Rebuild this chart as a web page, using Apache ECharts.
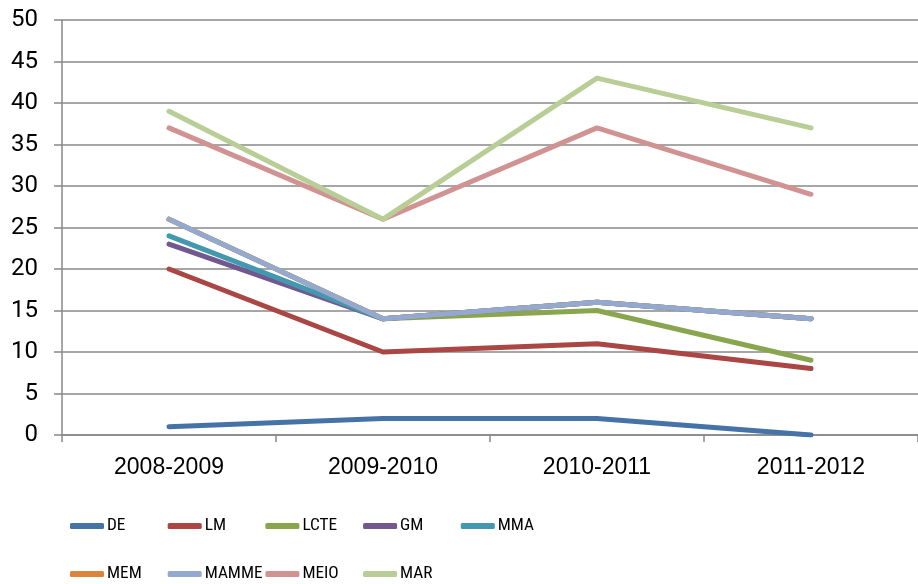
<!DOCTYPE html>
<html>
<head>
<meta charset="utf-8">
<script src="https://cdn.jsdelivr.net/npm/echarts@6/dist/echarts.min.js"></script>
<style>html,body{margin:0;padding:0;background:#fff}#c{width:918px;height:584px}</style>
</head>
<body>
<div id="c"></div>
<script>
var categories = ['2008-2009', '2009-2010', '2010-2011', '2011-2012'];
var seriesNames = ['DE', 'LM', 'LCTE', 'GM', 'MMA', 'MEM', 'MAMME', 'MEIO', 'MAR'];
var DE    = [1, 2, 2, 0];
var LM    = [20, 10, 11, 8];
var LCTE  = [26, 14, 15, 9];
var GM    = [23, 14, 16, 14];
var MMA   = [24, 14, 16, 14];
var MEM   = [26, 14, 16, 14];
var MAMME = [26, 14, 16, 14];
var MEIO  = [37, 26, 37, 29];
var MAR   = [39, 26, 43, 37];
var yTicks = [0, 5, 10, 15, 20, 25, 30, 35, 40, 45, 50];

var values = [DE, LM, LCTE, GM, MMA, MEM, MAMME, MEIO, MAR];
var colors = ['#4572A7', '#AA4643', '#89A54E', '#71588F', '#4198AF', '#DB843D', '#93A9CF', '#D19392', '#B9CD96'];

// pick a condensed font for the legend if one is installed
var cv = document.createElement('canvas').getContext('2d');
function w(font) { cv.font = font; return cv.measureText('MAMME').width; }
var candidates = ['"Liberation Sans Narrow"', '"Roboto Condensed"', '"Open Sans Condensed"', '"Noto Sans Condensed"', '"DejaVu Sans Condensed"'];
var legendFont = '"Liberation Sans"';
for (var k = 0; k < candidates.length; k++) {
  var a = w('40px ' + candidates[k] + ', monospace');
  var b = w('40px monospace');
  var c2 = w('40px ' + candidates[k] + ', serif');
  var d = w('40px serif');
  if (Math.abs(a - b) > 0.5 && Math.abs(c2 - d) > 0.5) { legendFont = candidates[k]; break; }
}
var perPx = w('100px ' + legendFont) / 100;
var legendSize = Math.min(22, Math.floor(58 / perPx * 10) / 10);

var legends = seriesNames.map(function (n, i) {
  var row = i < 5 ? 0 : 1;
  var col = i < 5 ? i : i - 5;
  return {
    data: [n],
    left: 70 + col * 97.7,
    top: row === 0 ? 526 - 11 : 574 - 11,
    padding: 0,
    icon: 'roundRect',
    itemWidth: 34,
    itemHeight: 6,
    selectedMode: false,
    textStyle: {
      fontFamily: legendFont + ', sans-serif',
      fontSize: legendSize,
      lineHeight: 22,
      color: '#000',
      padding: [0, 0, 0, -2]
    }
  };
});

var chart = echarts.init(document.getElementById('c'));
chart.setOption({
  animation: false,
  backgroundColor: '#fff',
  color: colors,
  grid: { left: 62, right: -4, top: 20, bottom: 149, containLabel: false },
  legend: legends,
  xAxis: {
    type: 'category',
    data: categories,
    boundaryGap: true,
    axisLine: { lineStyle: { color: '#888888', width: 1.5 } },
    axisTick: { show: true, length: 7, lineStyle: { color: '#888888', width: 1.5 } },
    axisLabel: {
      margin: 21,
      color: '#000',
      fontSize: 23,
      fontFamily: '"Liberation Sans", Arial, sans-serif'
    },
    splitLine: { show: false }
  },
  yAxis: {
    type: 'value',
    min: yTicks[0],
    max: yTicks[yTicks.length - 1],
    interval: 5,
    axisLine: { show: true, lineStyle: { color: '#888888', width: 1.5 } },
    axisTick: { show: true, length: 8, lineStyle: { color: '#888888', width: 1.5 } },
    axisLabel: {
      margin: 24,
      color: '#000',
      fontSize: 24,
      fontFamily: 'Roboto, "Liberation Sans", sans-serif'
    },
    splitLine: { show: true, lineStyle: { color: '#888888', width: 1.5 } }
  },
  series: seriesNames.map(function (n, i) {
    return {
      name: n,
      type: 'line',
      data: values[i],
      showSymbol: false,
      symbol: 'none',
      lineStyle: { width: 5, color: colors[i], cap: 'round', join: 'round' },
      itemStyle: { color: colors[i] }
    };
  })
});
</script>
</body>
</html>
